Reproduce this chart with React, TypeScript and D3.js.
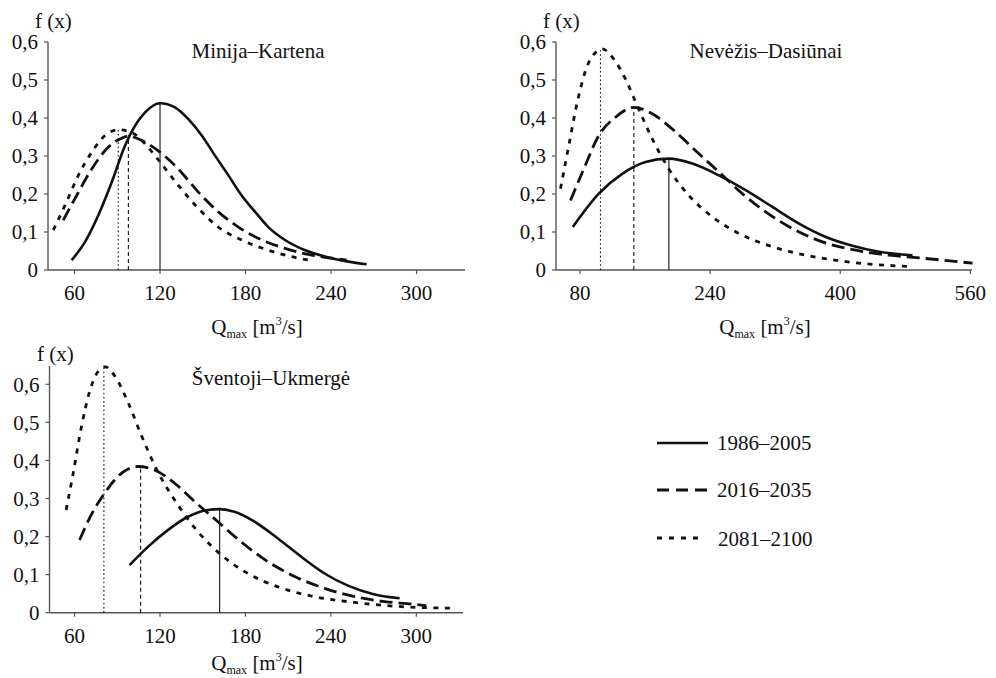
import React from "react";
import * as d3 from "d3";

// ---------- DATA ----------
const seriesLabels = ["1986–2005", "2016–2035", "2081–2100"];

const minijaTicksX = [60, 120, 180, 240, 300];
const neveziTicksX = [80, 240, 400, 560];
const sventojiTicksX = [60, 120, 180, 240, 300];
const ticksY = [0, 0.1, 0.2, 0.3, 0.4, 0.5, 0.6];

const minija1986: [number, number][] = [
  [58, 0.026], [67.4, 0.074], [76.7, 0.144], [86.1, 0.231], [95.4, 0.327], [102.5, 0.38],
  [109.5, 0.415], [120, 0.439], [130.5, 0.428], [139.9, 0.397], [149.3, 0.354], [158.6, 0.301],
  [168, 0.249], [177.3, 0.196], [186.7, 0.153], [196, 0.113], [207.7, 0.079], [221.8, 0.052],
  [238.1, 0.033], [252.1, 0.022], [265, 0.015],
];
const minija2016: [number, number][] = [
  [52.1, 0.131], [61.5, 0.196], [72.1, 0.266], [82.6, 0.319], [91.9, 0.345], [97.8, 0.352],
  [107.2, 0.341], [120, 0.31], [132.8, 0.266], [146.9, 0.205], [160.9, 0.153], [175, 0.113],
  [191.4, 0.079], [207.7, 0.057], [224.1, 0.041], [240.5, 0.031], [251, 0.026],
];
const minija2081: [number, number][] = [
  [45.1, 0.105], [53.3, 0.17], [62.7, 0.249], [72.1, 0.31], [81.4, 0.354], [90.7, 0.369],
  [100.1, 0.362], [109.5, 0.332], [120, 0.284], [132.8, 0.223], [146.9, 0.162], [160.9, 0.113],
  [177.3, 0.079], [193.7, 0.055], [210, 0.037], [227.6, 0.024],
];
const minijaModes = [120, 97.8, 90.7];
const minijaPeaks = [0.439, 0.355, 0.37];

const nevezis1986: [number, number][] = [
  [71.1, 0.113], [103.1, 0.201], [131.9, 0.253], [160.6, 0.284], [189.3, 0.293], [218.1, 0.28],
  [250.8, 0.249], [283.7, 0.21], [316.5, 0.166], [349.3, 0.122], [382.2, 0.087], [415, 0.064],
  [447.8, 0.048], [488.9, 0.039],
];
const nevezis2016: [number, number][] = [
  [68.3, 0.183], [84.7, 0.266], [103.1, 0.354], [123.7, 0.402], [146.2, 0.428], [168.9, 0.411],
  [193.5, 0.371], [222.2, 0.314], [250.8, 0.258], [279.6, 0.201], [308.3, 0.153], [341.2, 0.109],
  [378.1, 0.074], [419.1, 0.052], [460, 0.039], [501.2, 0.031], [562.7, 0.018],
];
const nevezis2081: [number, number][] = [
  [56, 0.214], [66.2, 0.327], [76.6, 0.441], [88.9, 0.537], [101.2, 0.576], [107, 0.582],
  [121.6, 0.555], [136, 0.502], [150.4, 0.432], [168.9, 0.345], [189.3, 0.266], [213.9, 0.196],
  [242.7, 0.14], [275.4, 0.096], [312.4, 0.064], [357.5, 0.039], [406.8, 0.022], [486.8, 0.009],
];
const nevezisModes = [189.3, 146.2, 105.2];
const nevezisPeaks = [0.293, 0.428, 0.58];

const sventoji1986: [number, number][] = [
  [98.6, 0.125], [111.5, 0.173], [125.5, 0.217], [139.6, 0.252], [153.6, 0.27], [161.9, 0.272],
  [172.4, 0.265], [186.4, 0.239], [202.8, 0.195], [219.2, 0.147], [235.6, 0.103], [252, 0.071],
  [270.7, 0.048], [288.3, 0.038],
];
const sventoji2016: [number, number][] = [
  [63.5, 0.191], [71.7, 0.257], [81.1, 0.314], [91.6, 0.362], [104.5, 0.384], [116.2, 0.375],
  [130.3, 0.34], [144.3, 0.292], [160.7, 0.239], [177, 0.186], [195.8, 0.134], [214.6, 0.095],
  [235.6, 0.064], [256.7, 0.042], [277.8, 0.029], [298.9, 0.022], [307, 0.018],
];
const sventoji2081: [number, number][] = [
  [54.1, 0.27], [58.8, 0.362], [64.6, 0.484], [70.5, 0.58], [76.4, 0.633], [81.5, 0.646],
  [89.2, 0.616], [97.4, 0.554], [106.8, 0.467], [118.5, 0.37], [132.6, 0.283], [146.6, 0.213],
  [163, 0.152], [181.7, 0.103], [202.8, 0.068], [228.6, 0.042], [256.7, 0.027], [289.4, 0.016],
  [324.6, 0.012],
];
const sventojiModes = [161.9, 106.4, 80.6];
const sventojiPeaks = [0.272, 0.384, 0.645];

// ---------- STYLE ----------
const FONT = "Liberation Serif";
const INK = "#111";
const AXIS = "#555";
const curveDash = [null, "13,6", "5,6.5"];
const curveWidth = [2.6, 2.8, 2.8];
const modeDash = [null, "4,3", "1.6,2.6"];

type PanelProps = {
  title: string;
  titleX: number;
  titleY: number;
  left: number;
  right: number;
  bottom: number;
  top: number;
  axisTop: number;
  xDomain: [number, number];
  xTicks: number[];
  series: [number, number][][];
  modes: number[];
  peaks: number[];
  fxX: number;
  fxY: number;
  qX: number;
  qY: number;
};

function T(props: any) {
  return <text fontSize={21} fontFamily={FONT} fill={INK} style={{ fontFamily: FONT }} {...props} />;
}

function Panel(p: PanelProps) {
  const x = d3.scaleLinear().domain(p.xDomain).range([p.left, p.right]);
  const y = d3.scaleLinear().domain([0, 0.6]).range([p.bottom, p.top]);
  const line = d3
    .line<[number, number]>()
    .x((d) => x(d[0]))
    .y((d) => y(d[1]))
    .curve(d3.curveMonotoneX);
  const fmt = (v: number) => (v === 0 ? "0" : d3.format(".1f")(v).replace(".", ","));
  return (
    <g>
      <line x1={p.left} x2={p.left} y1={p.bottom} y2={p.axisTop} stroke={AXIS} strokeWidth={1.4} />
      <line x1={p.left} x2={p.right} y1={p.bottom} y2={p.bottom} stroke={AXIS} strokeWidth={1.4} />
      {ticksY.map((t) => (
        <g key={"y" + t}>
          <line x1={p.left - 4} x2={p.left} y1={y(t)} y2={y(t)} stroke={AXIS} strokeWidth={1.2} />
          <T x={p.left - 10} y={y(t)} dy="0.35em" textAnchor="end">
            {fmt(t)}
          </T>
        </g>
      ))}
      {p.xTicks.map((t) => (
        <g key={"x" + t}>
          <line x1={x(t)} x2={x(t)} y1={p.bottom} y2={p.bottom + 4} stroke={AXIS} strokeWidth={1.2} />
          <T x={x(t)} y={p.bottom + 30} textAnchor="middle">
            {t}
          </T>
        </g>
      ))}
      {p.modes.map((m, i) => (
        <line
          key={"m" + i}
          x1={x(m)}
          x2={x(m)}
          y1={p.bottom}
          y2={y(p.peaks[i])}
          stroke={INK}
          strokeWidth={1.1}
          strokeDasharray={modeDash[i] ?? undefined}
        />
      ))}
      {p.series.map((s, i) => (
        <path
          key={"c" + i}
          d={line(s) ?? ""}
          fill="none"
          stroke={INK}
          strokeWidth={curveWidth[i]}
          strokeDasharray={curveDash[i] ?? undefined}
        />
      ))}
      <T x={p.titleX} y={p.titleY} textAnchor="middle">
        {p.title}
      </T>
      <T x={p.fxX} y={p.fxY}>f (x)</T>
      <T x={p.qX} y={p.qY} textAnchor="middle">
        <tspan>Q</tspan>
        <tspan fontSize={12} dy={4}>max</tspan>
        <tspan dy={-4}> [m</tspan>
        <tspan fontSize={12} dy={-9}>3</tspan>
        <tspan dy={9}>/s]</tspan>
      </T>
    </g>
  );
}

export default function App() {
  const legendY = [443, 490, 538];
  const legendTextY = [450, 497, 546];
  return (
    <svg width={996} height={678} style={{ position: "absolute", left: 0, top: 0, background: "#fff" }}>
      <rect width={996} height={678} fill="#fff" />
      <Panel
        title="Minija–Kartena"
        titleX={258}
        titleY={58}
        left={48}
        right={465}
        bottom={270}
        top={42}
        axisTop={42}
        xDomain={[41.4, 334]}
        xTicks={minijaTicksX}
        series={[minija1986, minija2016, minija2081]}
        modes={minijaModes}
        peaks={minijaPeaks}
        fxX={35}
        fxY={28}
        qX={257}
        qY={334}
      />
      <Panel
        title="Nevėžis–Dasiūnai"
        titleX={766}
        titleY={58}
        left={556}
        right={972}
        bottom={270}
        top={42}
        axisTop={42}
        xDomain={[50.5, 562]}
        xTicks={neveziTicksX}
        series={[nevezis1986, nevezis2016, nevezis2081]}
        modes={nevezisModes}
        peaks={nevezisPeaks}
        fxX={543}
        fxY={28}
        qX={765}
        qY={334}
      />
      <Panel
        title="Šventoji–Ukmergė"
        titleX={271}
        titleY={385}
        left={49.5}
        right={463}
        bottom={612.7}
        top={384.3}
        axisTop={366}
        xDomain={[42.4, 332.8]}
        xTicks={sventojiTicksX}
        series={[sventoji1986, sventoji2016, sventoji2081]}
        modes={sventojiModes}
        peaks={sventojiPeaks}
        fxX={37}
        fxY={361}
        qX={257}
        qY={670}
      />
      {seriesLabels.map((lab, i) => (
        <g key={lab}>
          <line
            x1={657}
            x2={i === 2 ? 700 : 708}
            y1={legendY[i]}
            y2={legendY[i]}
            stroke={INK}
            strokeWidth={curveWidth[i]}
            strokeDasharray={i === 1 ? "12,7" : i === 2 ? "5,7" : undefined}
          />
          <T x={i === 2 ? 718 : 717} y={legendTextY[i]}>
            {lab}
          </T>
        </g>
      ))}
    </svg>
  );
}
